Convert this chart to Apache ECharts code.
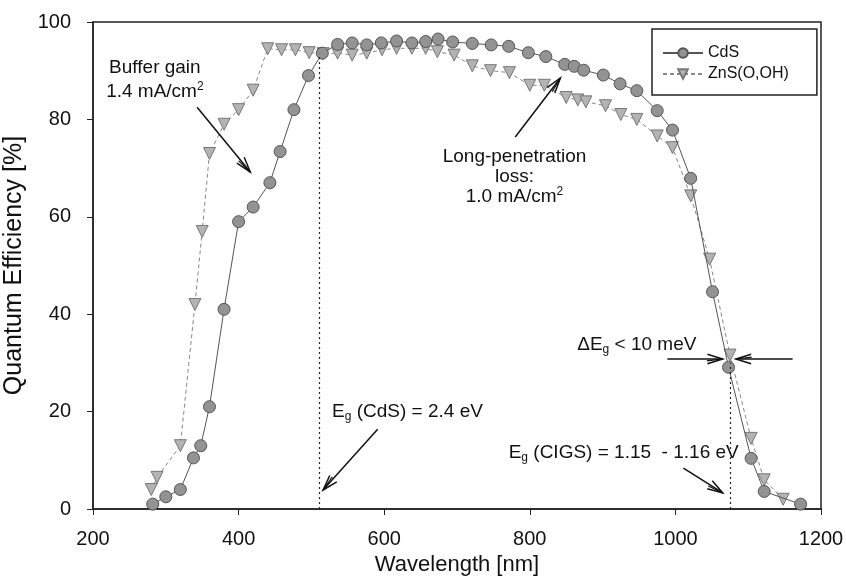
<!DOCTYPE html>
<html>
<head>
<meta charset="utf-8">
<script src="https://cdn.jsdelivr.net/npm/echarts@6/dist/echarts.min.js"></script>
<style>html,body{margin:0;padding:0;background:#fff}#c{width:846px;height:579px}</style>
</head>
<body>
<div id="c"></div>
<script>
// ---- data ----
const cdsX = [282, 300, 320, 338, 348, 360, 380, 400, 420, 443, 457, 476, 496, 515, 536, 556, 576, 596, 617, 638, 657, 674, 694, 721, 747, 771, 798, 822, 848, 861, 874, 901, 924, 947, 975, 996, 1021, 1051, 1073, 1104, 1122, 1172];
const cdsY = [1, 2.5, 4, 10.5, 13, 21, 41, 59, 62, 67, 73.4, 82, 89, 93.6, 95.4, 95.7, 95.3, 95.7, 96.1, 95.7, 96, 96.5, 95.9, 95.6, 95.3, 95, 93.7, 92.9, 91.3, 90.9, 90.1, 89.1, 87.3, 85.9, 81.8, 77.8, 67.9, 44.6, 29.1, 10.4, 3.6, 1];
const znsX = [280, 288, 320, 340, 350, 360, 380, 400, 420, 440, 459, 478, 497, 516, 536, 556, 576, 597, 617, 638, 657, 673, 696, 721, 746, 772, 800, 820, 850, 866, 877, 904, 925, 947, 975, 996, 1021, 1047, 1075, 1104, 1122, 1148];
const znsY = [4, 6.5, 13, 42, 57, 73, 79, 82, 86, 94.5, 94.3, 94.3, 93.7, 93.5, 93.6, 93.2, 93.6, 94.3, 94.6, 94.6, 94.6, 93.9, 93.2, 91, 90, 89.6, 87, 87, 84.5, 84, 83.6, 82.8, 81, 80, 76.6, 74.2, 64.3, 51.3, 31.6, 14.5, 6, 2];
const seriesNames = ['CdS', 'ZnS(O,OH)'];
const xTicks = [200, 400, 600, 800, 1000, 1200];
const yTicks = [0, 20, 40, 60, 80, 100];
const egCdS = 511;      // dotted line, nm
const egCdSTop = 93.5;
const egCIGS = 1075;
const egCIGSTop = 30;

const FONT = '"Liberation Sans", Arial, sans-serif';
const chart = echarts.init(document.getElementById('c'), null, {renderer: 'canvas'});

function pairs(xs, ys) { return xs.map((x, i) => [x, ys[i]]); }

const option = {
  animation: false,
  backgroundColor: '#fff',
  grid: {left: 93, right: 25, top: 22, bottom: 70, show: true, borderColor: '#222', borderWidth: 1.5,
         containLabel: false, outerBoundsMode: 'none'},
  legend: {
    orient: 'vertical', left: 652, top: 29,
    borderColor: '#222', borderWidth: 1.5, padding: [16, 28, 13, 10], itemGap: 5,
    itemWidth: 40, itemHeight: 12,
    textStyle: {fontFamily: FONT, fontSize: 16, color: '#111'},
    data: seriesNames
  },
  xAxis: {
    type: 'value', min: xTicks[0], max: xTicks[xTicks.length - 1], interval: 200,
    name: 'Wavelength [nm]', nameLocation: 'middle', nameGap: 36,
    nameTextStyle: {fontFamily: FONT, fontSize: 22, color: '#111'},
    axisLine: {lineStyle: {color: '#222', width: 1.5}},
    axisTick: {show: true, length: 6, lineStyle: {color: '#222'}},
    axisLabel: {fontFamily: FONT, fontSize: 20, color: '#111', margin: 20, formatter: v => String(v)},
    splitLine: {show: false}
  },
  yAxis: {
    type: 'value', min: yTicks[0], max: yTicks[yTicks.length - 1], interval: 20,
    name: 'Quantum Efficiency [%]', nameLocation: 'middle', nameGap: 58,
    nameTextStyle: {fontFamily: FONT, fontSize: 25, color: '#111'},
    axisLine: {lineStyle: {color: '#222', width: 1.5}},
    axisTick: {show: true, length: 6, lineStyle: {color: '#222'}},
    axisLabel: {fontFamily: FONT, fontSize: 20, color: '#111', margin: 22, formatter: v => String(v)},
    splitLine: {show: false}
  },
  series: [
    {
      name: seriesNames[0], type: 'line', data: pairs(cdsX, cdsY),
      symbol: 'circle', symbolSize: 12,
      itemStyle: {color: '#939393', borderColor: '#555', borderWidth: 1},
      lineStyle: {color: '#555', width: 1},
      z: 3,
      markLine: {
        silent: true, symbol: ['none', 'none'], label: {show: false},
        lineStyle: {color: '#222', type: [2, 3], width: 1.2},
        data: [
          [{coord: [egCdS, 0]}, {coord: [egCdS, egCdSTop]}],
          [{coord: [egCIGS, 0]}, {coord: [egCIGS, egCIGSTop]}]
        ]
      }
    },
    {
      name: seriesNames[1], type: 'line', data: pairs(znsX, znsY),
      symbol: 'triangle', symbolRotate: 180, symbolSize: 12,
      itemStyle: {color: '#b3b3b3', borderColor: '#777', borderWidth: 1},
      lineStyle: {color: '#888', width: 1, type: [4, 3]},
      z: 2
    }
  ]
};
chart.setOption(option);

// ---- annotations placed in data coordinates ----
const arrows = [
  {from: [343, 82.5], to: [416, 69.2]},
  {from: [780, 76.4], to: [842, 88.5]},
  {from: [591, 16.4], to: [516, 3.9]},
  {from: [1011, 8.4], to: [1065, 3.3]},
  {from: [989, 30.8], to: [1065, 30.8]},
  {from: [1161, 30.8], to: [1083, 30.8]}
];
const rich = {
  t: {fontFamily: FONT, fontSize: 19, color: '#111'},
  sup: {fontFamily: FONT, fontSize: 12, color: '#111', verticalAlign: 'top', padding: [0, 0, 10, 0]},
  sub: {fontFamily: FONT, fontSize: 12, color: '#111', padding: [10, 0, 0, 0]}
};
const texts = [
  {at: [285, 90.6], s: '{t|Buffer gain}'},
  {at: [285, 85.6], s: '{t|1.4 mA/cm}{sup|2}'},
  {at: [779, 72.3], s: '{t|Long-penetration}'},
  {at: [779, 68.2], s: '{t|loss:}'},
  {at: [779, 64.1], s: '{t|1.0 mA/cm}{sup|2}'},
  {at: [632, 19.9], s: '{t|E}{sub|g}{t| (CdS) = 2.4 eV}'},
  {at: [929, 11.5], s: '{t|E}{sub|g}{t| (CIGS) = 1.15  - 1.16 eV}'},
  {at: [947, 33.7], s: '{t|\u0394E}{sub|g}{t| < 10 meV}'}
];
const g = [];
arrows.forEach(a => {
  const p1 = chart.convertToPixel({gridIndex: 0}, a.from);
  const p2 = chart.convertToPixel({gridIndex: 0}, a.to);
  const ang = Math.atan2(p2[1] - p1[1], p2[0] - p1[0]);
  const L = 16, da = 0.3;
  const h1 = [p2[0] - L * Math.cos(ang - da), p2[1] - L * Math.sin(ang - da)];
  const h2 = [p2[0] - L * Math.cos(ang + da), p2[1] - L * Math.sin(ang + da)];
  const h3 = [p2[0] - L * Math.cos(ang - da / 2.5), p2[1] - L * Math.sin(ang - da / 2.5)];
  g.push({type: 'polyline', shape: {points: [p1, p2]}, style: {stroke: '#111', lineWidth: 1.5, fill: null}, z: 10});
  g.push({type: 'polyline', shape: {points: [h1, p2, h2]}, style: {stroke: '#111', lineWidth: 1.5, fill: null}, z: 10});
  g.push({type: 'polyline', shape: {points: [h3, p2]}, style: {stroke: '#111', lineWidth: 1.2, fill: null}, z: 10});
});
texts.forEach(t => {
  const p = chart.convertToPixel({gridIndex: 0}, t.at);
  g.push({type: 'text', x: p[0], y: p[1], z: 11,
    style: {text: t.s, rich: rich, align: 'center', verticalAlign: 'middle', fill: '#111', font: '19px ' + FONT}});
});
chart.setOption({graphic: g});
</script>
</body>
</html>
